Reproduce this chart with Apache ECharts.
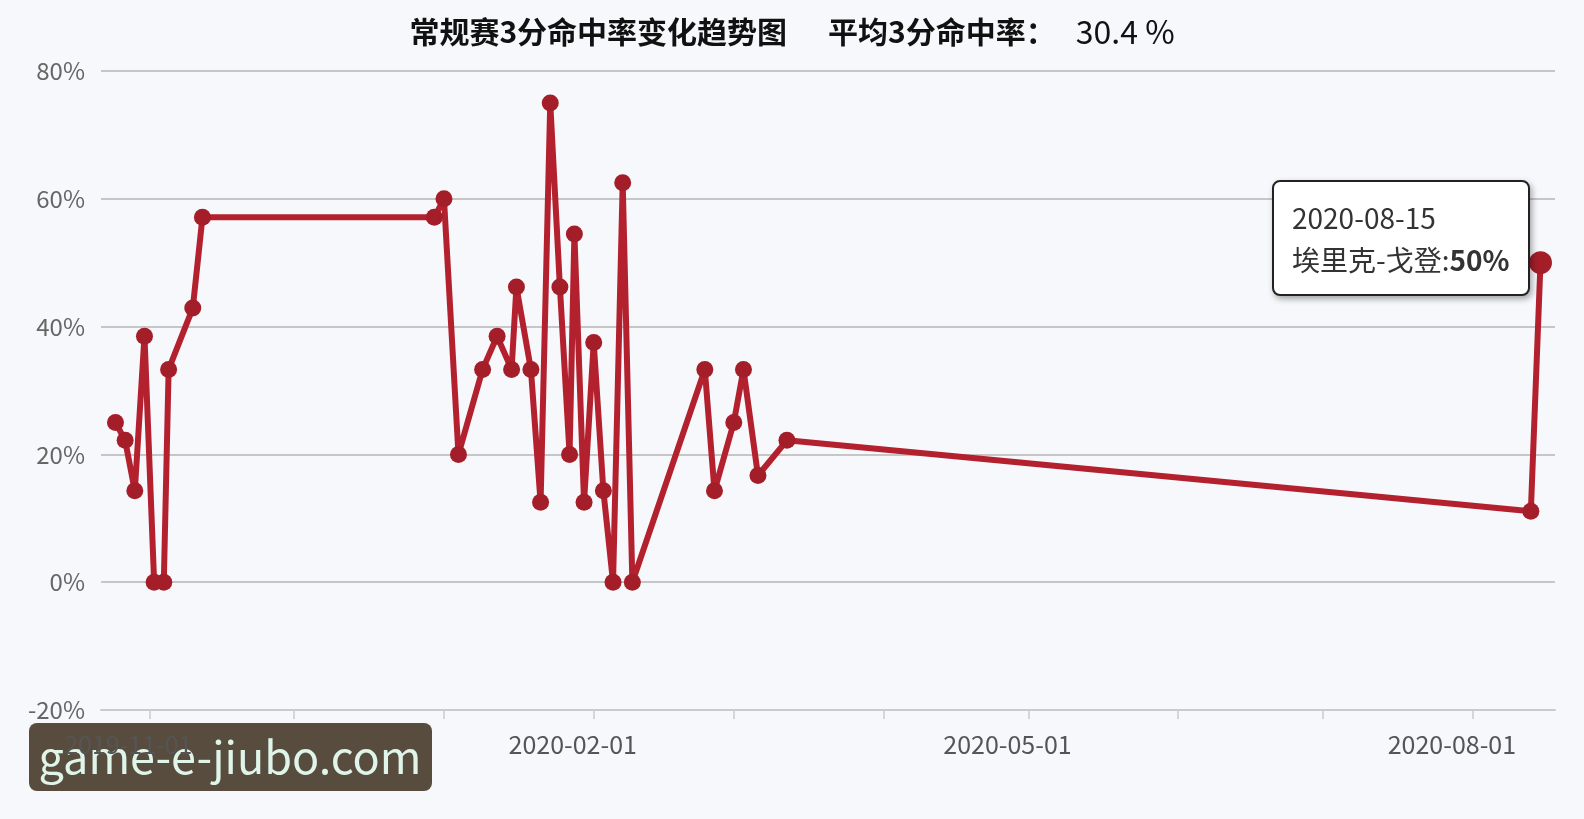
<!DOCTYPE html>
<html>
<head>
<meta charset="utf-8">
<script src="https://cdn.jsdelivr.net/npm/echarts@6/dist/echarts.min.js"></script>
<style>
html,body{margin:0;padding:0;background:#f6f8fb;}
#chart{width:1584px;height:819px;}
</style>
</head>
<body>
<div id="chart"></div>
<script>
// ---- data ----
const dates = [
  '2019-10-25','2019-10-27','2019-10-29','2019-10-31','2019-11-02','2019-11-04','2019-11-05','2019-11-10','2019-11-12',
  '2019-12-30','2020-01-01','2020-01-04','2020-01-09','2020-01-12','2020-01-15','2020-01-16','2020-01-19','2020-01-21',
  '2020-01-23','2020-01-25','2020-01-27','2020-01-28','2020-01-30','2020-02-01','2020-02-03','2020-02-05','2020-02-07',
  '2020-02-09','2020-02-24','2020-02-26','2020-03-01','2020-03-03','2020-03-06','2020-03-12','2020-08-13','2020-08-15'
];
const threePct = [
  25, 22.2, 14.3, 38.5, 0, 0, 33.3, 42.9, 57.1,
  57.1, 60, 20, 33.3, 38.5, 33.3, 46.2, 33.3, 12.5,
  75, 46.2, 20, 54.5, 12.5, 37.5, 14.3, 0, 62.5,
  0, 33.3, 14.3, 25, 33.3, 16.7, 22.2, 11.1, 50
];
const playerName = '埃里克-戈登';
const titleMain = '常规赛3分命中率变化趋势图';
const titleAvgLabel = '平均3分命中率：';
const titleAvgValue = '30.4 %';
const labelMonths = [11, 2, 5, 8];
const xMin = '2019-10-22';
const xMax = '2020-08-18';
const yTicks = { min: -20, max: 80, interval: 20 };
const watermark = 'game-e-jiubo.com';

const FONT = '"Noto Sans CJK SC", "Noto Sans", sans-serif';
const RED = '#a41e2a';
const seriesData = dates.map((d, i) => [d, threePct[i]]);

const chart = echarts.init(document.getElementById('chart'), null, { renderer: 'canvas' });
chart.setOption({
  animation: false,
  backgroundColor: '#f6f8fb',
  title: {
    left: 'center',
    top: 8,
    text: '{b|' + titleMain + '}{g|}{b|' + titleAvgLabel + '}{g2|}{n|' + titleAvgValue + '}',
    textStyle: {
      rich: {
        b: { fontSize: 30, fontWeight: 'bold', color: '#111', fontFamily: FONT, lineHeight: 38 },
        g: { width: 41 },
        g2: { width: 20 },
        n: { fontSize: 32, fontWeight: 'normal', color: '#111', fontFamily: FONT, lineHeight: 38 }
      }
    }
  },
  grid: { left: 101, right: 29, top: 71, bottom: 109 },
  tooltip: {
    trigger: 'item',
    triggerOn: 'none',
    alwaysShowContent: true,
    transitionDuration: 0,
    backgroundColor: '#ffffff',
    borderColor: '#222',
    borderWidth: 2,
    padding: [14, 18],
    textStyle: { fontSize: 28, color: '#333', fontFamily: FONT, lineHeight: 42 },
    extraCssText: 'border-radius:8px;box-shadow:2px 3px 6px rgba(0,0,0,0.35);line-height:42px;',
    position: function () { return [1272, 180]; },
    formatter: function (p) {
      const d = echarts.time.format(p.value[0], '{yyyy}-{MM}-{dd}', false);
      return d + '<br/>' + playerName + ':<b>' + p.value[1] + '%</b>';
    }
  },
  xAxis: {
    type: 'time',
    min: xMin,
    max: xMax,
    splitNumber: 10,
    minInterval: 28 * 86400000,
    maxInterval: 31 * 86400000,
    axisLine: { show: true, onZero: false, lineStyle: { color: '#c8ccd2', width: 2 } },
    axisTick: { show: true, length: 9, lineStyle: { color: '#c8ccd2', width: 1.5 } },
    splitLine: { show: false },
    axisLabel: {
      color: '#555',
      fontSize: 25,
      fontFamily: FONT,
      margin: 22,
      padding: [0, 42, 0, 0],
      showMinLabel: false,
      showMaxLabel: false,
      formatter: function (val) {
        const d = new Date(val);
        if (d.getDate() !== 1) return '';
        if (labelMonths.indexOf(d.getMonth() + 1) < 0) return '';
        return echarts.time.format(val, '{yyyy}-{MM}-{dd}', false);
      }
    }
  },
  yAxis: {
    type: 'value',
    min: yTicks.min,
    max: yTicks.max,
    interval: yTicks.interval,
    axisLine: { show: false },
    axisTick: { show: false },
    axisLabel: { color: '#666', fontSize: 24, fontFamily: FONT, margin: 16, formatter: '{value}%' },
    splitLine: { lineStyle: { color: '#c6c6c6', width: 2 } }
  },
  series: [{
    type: 'line',
    name: playerName,
    data: seriesData,
    symbol: 'circle',
    symbolSize: 17,
    lineStyle: { color: RED, width: 6 },
    itemStyle: { color: RED },
    emphasis: { scale: 1.35, itemStyle: { color: RED }, lineStyle: { width: 6 } }
  }],
  graphic: [{
    type: 'group',
    left: 29,
    top: 723,
    z: 100,
    children: [{
      type: 'rect',
      shape: { x: 0, y: 0, width: 403, height: 68, r: 8 },
      style: { fill: 'rgba(52,38,20,0.82)' }
    }, {
      type: 'text',
      x: 201,
      y: 34,
      style: {
        text: watermark,
        fill: '#dff5ea',
        font: '45px ' + FONT,
        align: 'center',
        verticalAlign: 'middle'
      }
    }]
  }]
});
const lastIdx = dates.length - 1;
chart.dispatchAction({ type: 'highlight', seriesIndex: 0, dataIndex: lastIdx });
chart.dispatchAction({ type: 'showTip', seriesIndex: 0, dataIndex: lastIdx });
</script>
</body>
</html>
